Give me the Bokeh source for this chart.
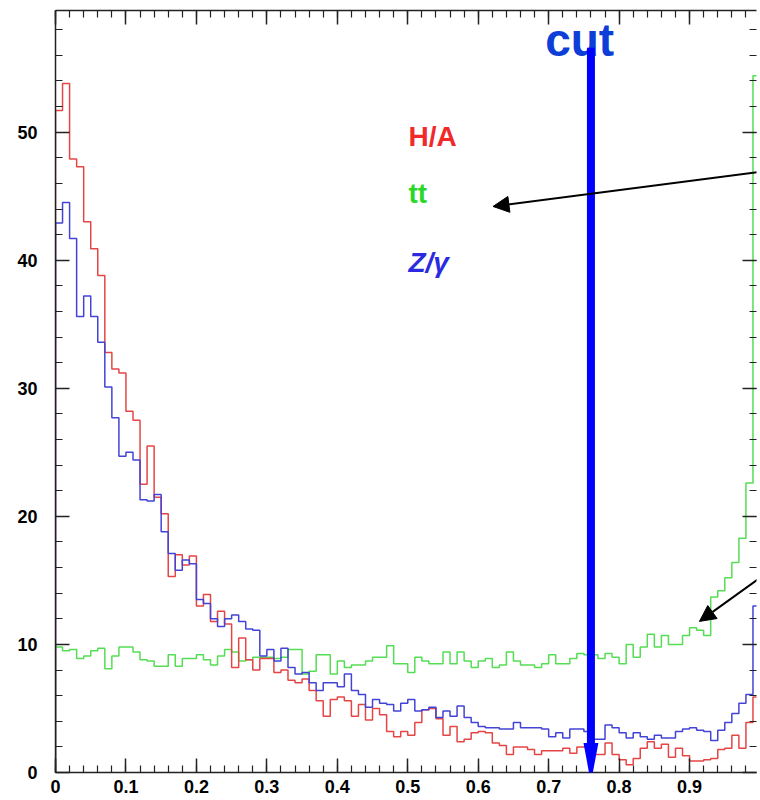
import numpy as np
from bokeh.plotting import figure
from bokeh.models import (Range1d, LinearAxis, FixedTicker, Label, Arrow,
                          NormalHead, PolyAnnotation, CustomLabelingPolicy)
from bokeh.embed import file_html
from bokeh.resources import INLINE

# ---------------- data ----------------
BIN_LO = 0.0
BIN_HI = 1.0
N_BINS = 100

h_a = [51.7, 53.8, 47.9, 47.3, 43.0, 40.9, 38.8, 32.8, 31.5, 31.2,
       28.2, 27.5, 22.5, 25.5, 21.5, 20.2, 15.3, 17.0, 16.2, 16.9,
       13.0, 13.9, 11.8, 12.6, 11.6, 8.2, 10.5, 8.8, 8.0, 8.9,
       8.9, 7.8, 8.0, 7.2, 7.0, 7.3, 6.4, 5.6, 4.4, 5.7,
       5.9, 5.6, 4.4, 5.3, 4.1, 5.0, 4.5, 3.2, 2.8, 3.2,
       2.9, 3.9, 4.9, 5.0, 4.2, 2.9, 3.6, 2.4, 2.6, 3.1,
       3.2, 3.1, 2.3, 2.1, 1.4, 2.0, 2.0, 1.8, 1.4, 1.7,
       1.7, 1.7, 1.9, 1.5, 2.0, 2.0, 1.4, 1.4, 2.3, 1.4,
       1.0, 0.6, 1.1, 1.9, 2.4, 1.9, 2.2, 1.2, 1.9, 1.3,
       0.9, 0.9, 1.0, 1.1, 1.8, 1.9, 2.9, 1.9, 3.9, 5.9]

tt = [9.8, 9.5, 9.6, 8.9, 9.1, 9.5, 9.7, 8.1, 9.1, 9.8,
      9.8, 9.4, 8.8, 8.7, 8.3, 8.3, 9.2, 8.3, 8.9, 8.9,
      9.2, 8.8, 8.4, 9.1, 9.6, 9.4, 8.7, 8.8, 9.0, 9.0,
      9.0, 8.9, 9.0, 9.6, 9.6, 7.7, 7.9, 9.2, 9.2, 7.7,
      8.7, 8.2, 8.4, 8.4, 8.7, 9.0, 9.0, 9.9, 8.5, 8.5,
      7.8, 9.0, 8.7, 8.5, 8.5, 9.4, 8.5, 9.4, 8.7, 8.2,
      8.7, 8.9, 8.2, 8.4, 9.4, 8.7, 8.4, 8.4, 8.2, 8.5,
      9.2, 8.5, 8.5, 8.9, 9.3, 9.2, 9.2, 8.9, 9.3, 9.0,
      8.5, 10.0, 9.0, 9.8, 10.8, 9.8, 10.7, 10.0, 10.0, 10.7,
      11.3, 11.1, 10.7, 13.7, 14.2, 15.2, 16.4, 18.3, 22.6, 54.4]

z_gamma = [42.9, 44.5, 41.7, 35.6, 37.2, 35.6, 33.6, 30.1, 27.7, 24.7,
           25.0, 24.4, 21.3, 21.2, 21.7, 18.8, 17.1, 15.8, 16.6, 16.3,
           13.5, 13.2, 12.0, 11.4, 12.0, 12.3, 11.8, 11.2, 11.1, 9.1,
           9.6, 8.7, 9.7, 8.2, 7.7, 7.8, 7.0, 6.4, 7.0, 7.0,
           6.7, 7.7, 6.4, 6.1, 5.1, 5.7, 5.4, 5.3, 4.8, 5.4,
           5.7, 4.8, 4.9, 5.1, 4.3, 4.8, 4.4, 5.2, 4.3, 3.9,
           3.6, 3.5, 3.5, 3.4, 3.4, 3.9, 3.5, 3.5, 3.5, 3.4,
           2.8, 3.1, 2.7, 3.4, 3.4, 3.2, 2.6, 2.6, 3.7, 3.5,
           3.1, 2.7, 3.1, 2.8, 2.6, 2.9, 2.7, 2.7, 3.2, 3.4,
           3.5, 3.3, 3.2, 2.5, 3.3, 3.9, 4.6, 5.4, 6.1, 13.0]

X_TICKS = [0, 0.1, 0.2, 0.3, 0.4, 0.5, 0.6, 0.7, 0.8, 0.9, 1.0]
X_LABELS = ["0", "0.1", "0.2", "0.3", "0.4", "0.5", "0.6", "0.7", "0.8", "0.9", "1"]
Y_TICKS = [0, 10, 20, 30, 40, 50]
Y_LABELS = ["0", "10", "20", "30", "40", "50"]

SERIES_NAMES = ["H/A", "tt", "Z/\u03b3"]
CUT = 0.76

# ---------------- figure ----------------
FONT = "Liberation Sans"
p = figure(width=760, height=800, output_backend="svg", toolbar_location=None,
           x_range=Range1d(0, 0.995), y_range=Range1d(0, 59.5),
           min_border_left=55, min_border_right=0, min_border_top=10,
           min_border_bottom=28, background_fill_color="white",
           border_fill_color="white")
p.grid.visible = False
p.outline_line_color = None

x_minor = list(np.round(np.arange(0, 1.0001, 0.02), 3))
y_minor = list(np.arange(0, 61, 2))
xt = FixedTicker(ticks=X_TICKS, minor_ticks=x_minor)
yt = FixedTicker(ticks=Y_TICKS, minor_ticks=y_minor)


def style(ax, standoff):
    ax.axis_line_color = "#222222"
    ax.axis_line_width = 1.5
    ax.major_tick_line_color = "#222222"
    ax.major_tick_line_width = 1.5
    ax.minor_tick_line_color = "#222222"
    ax.minor_tick_line_width = 1.2
    ax.major_tick_in = 14
    ax.major_tick_out = 0
    ax.minor_tick_in = 7
    ax.minor_tick_out = 0
    ax.major_label_text_font = FONT
    ax.major_label_text_font_style = "bold"
    ax.major_label_text_color = "black"
    ax.major_label_standoff = standoff
    ax.major_label_text_font_size = "18px"


xa = p.xaxis[0]
xa.ticker = xt
xa.major_label_overrides = {t: l for t, l in zip(X_TICKS, X_LABELS)}
style(xa, 7)

ya = p.yaxis[0]
ya.ticker = yt
ya.major_label_overrides = {t: l for t, l in zip(Y_TICKS, Y_LABELS)}
style(ya, 18)

hide_labels = CustomLabelingPolicy(
    code="for (const i of Array.from(indices)) { indices.unset(i) }\nreturn indices")

top = LinearAxis(ticker=xt, major_label_policy=hide_labels)
style(top, 0)
top.major_label_text_font_size = "1px"
p.add_layout(top, "above")

right = LinearAxis(ticker=yt, major_label_policy=hide_labels)
style(right, 0)
right.major_label_text_font_size = "1px"
right.axis_line_color = None
p.add_layout(right, "right")


# ---------------- histograms ----------------
def step_xy(vals):
    edges = np.linspace(BIN_LO, BIN_HI, N_BINS + 1)
    xs, ys = [edges[0]], [0.0]
    for i, v in enumerate(vals):
        xs += [edges[i], edges[i + 1]]
        ys += [v, v]
    xs.append(edges[-1])
    ys.append(0.0)
    return xs, ys


COLORS = {"H/A": "#e64545", "tt": "#55dd55", "Z/\u03b3": "#4343d6"}
for name, vals in [("tt", tt), ("H/A", h_a), ("Z/\u03b3", z_gamma)]:
    xs, ys = step_xy(vals)
    p.line(xs, ys, line_color=COLORS[name], line_width=1.5)

# ---------------- legend texts ----------------
TEXT_COLORS = ["#f02a2a", "#2ad82a", "#2a2ae0"]
for name, col, yy, st in zip(SERIES_NAMES, TEXT_COLORS, [49.7, 45.2, 39.8],
                             ["bold", "bold", "bold italic"]):
    p.add_layout(Label(x=0.501, y=yy, text=name, text_color=col,
                       text_font=FONT, text_font_size="28px",
                       text_font_style=st, text_baseline="alphabetic",
                       text_align="left"))

# ---------------- cut marker ----------------
p.add_layout(Label(x=CUT - 0.016, y=57.2, text="cut", text_color="#0d3fd8",
                   text_font=FONT, text_font_size="46px",
                   text_font_style="bold", text_align="center",
                   text_baseline="alphabetic"))
p.add_layout(Arrow(end=None, x_start=CUT, y_start=56.6, x_end=CUT, y_end=2.3,
                   line_color="#0000ff", line_width=8))
p.add_layout(PolyAnnotation(xs=[CUT - 0.0106, CUT + 0.0106, CUT],
                            ys=[2.3, 2.3, -0.8],
                            fill_color="#0000ff", fill_alpha=1.0,
                            line_color=None))

# ---------------- black arrows ----------------
for x0, y0, x1, y1 in [(1.0, 46.9, 0.621, 44.2), (1.0, 15.2, 0.914, 11.8)]:
    p.add_layout(Arrow(end=NormalHead(size=16, fill_color="black",
                                      line_color="black"),
                       x_start=x0, y_start=y0, x_end=x1, y_end=y1,
                       line_color="black", line_width=2))

open("out.html", "w").write(file_html(p, INLINE))
